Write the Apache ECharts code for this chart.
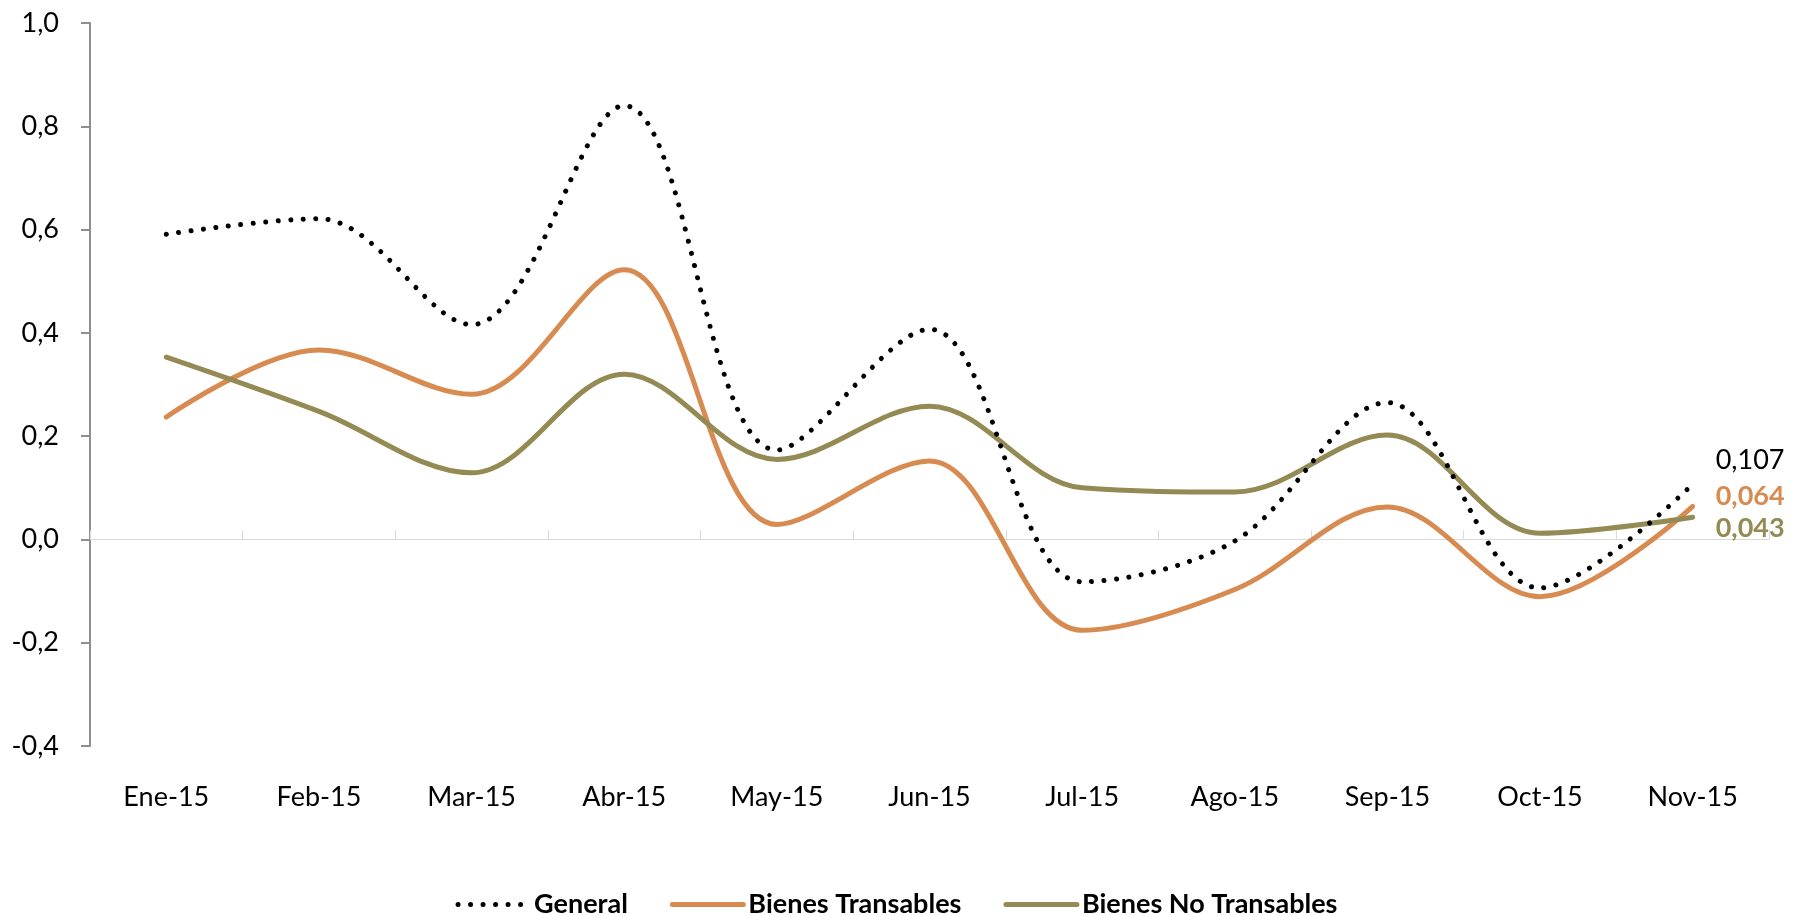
<!DOCTYPE html>
<html>
<head>
<meta charset="utf-8">
<script src="https://cdn.jsdelivr.net/npm/echarts@6/dist/echarts.min.js"></script>
<style>
html,body{margin:0;padding:0;background:#fff;}
#chart{width:1793px;height:916px;}
</style>
</head>
<body>
<div id="chart"></div>
<script>
const categories = ['Ene-15','Feb-15','Mar-15','Abr-15','May-15','Jun-15','Jul-15','Ago-15','Sep-15','Oct-15','Nov-15'];
const general = [0.591, 0.621, 0.416, 0.840, 0.173, 0.407, -0.082, -0.003, 0.265, -0.094, 0.107];
const transables = [0.237, 0.367, 0.281, 0.522, 0.029, 0.152, -0.176, -0.097, 0.063, -0.111, 0.064];
const noTransables = [0.353, 0.248, 0.129, 0.320, 0.155, 0.258, 0.100, 0.092, 0.202, 0.012, 0.043];
const seriesNames = ['General', 'Bienes Transables', 'Bienes No Transables'];
const endLabels = ['0,107', '0,064', '0,043'];
const yTicks = { min: -0.4, max: 1.0, interval: 0.2 };

const FONT = 'Lato';
const cOrange = '#D88B51';
const cOlive = '#948A54';

const chart = echarts.init(document.getElementById('chart'), null, { renderer: 'canvas' });
const smoothVal = 0.35;

chart.setOption({
  animation: false,
  backgroundColor: '#ffffff',
  textStyle: { fontFamily: FONT },
  grid: { left: 90, right: 24, top: 23, bottom: 170, containLabel: false },
  legend: {
    top: 886,
    left: 'center',
    itemWidth: 71,
    itemHeight: 8,
    itemGap: 42,
    itemStyle: { opacity: 0 },
    lineStyle: { width: 5, cap: 'round' },
    textStyle: { fontFamily: FONT, fontSize: 27, fontWeight: 'bold', color: '#000' },
    data: seriesNames
  },
  xAxis: [
    {
      type: 'category',
      data: categories,
      position: 'bottom',
      boundaryGap: true,
      axisLine: { show: false, onZero: false },
      axisTick: { show: false },
      axisLabel: { fontFamily: FONT, fontSize: 27, color: '#000', margin: 38 },
      splitLine: { show: false }
    },
    {
      type: 'category',
      data: categories,
      position: 'top',
      boundaryGap: true,
      axisLine: { show: true, onZero: true, lineStyle: { color: '#DADADA', width: 1 } },
      axisTick: { show: true, length: 9, lineStyle: { color: '#DADADA', width: 1 } },
      axisLabel: { show: false },
      splitLine: { show: false }
    }
  ],
  yAxis: {
    type: 'value',
    min: yTicks.min,
    max: yTicks.max,
    interval: yTicks.interval,
    axisLine: { show: true, lineStyle: { color: '#8F8F8F', width: 2 } },
    axisTick: { show: true, length: 9, lineStyle: { color: '#8F8F8F', width: 2 } },
    axisLabel: {
      fontFamily: FONT, fontSize: 27, color: '#000', margin: 31,
      formatter: v => v.toFixed(1).replace('.', ',')
    },
    splitLine: { show: false }
  },
  series: [
    {
      name: seriesNames[0],
      type: 'line',
      data: general,
      smooth: smoothVal,
      symbol: 'none',
      z: 3,
      color: '#000',
      lineStyle: { color: '#000', width: 5, type: [0.01, 12.5], cap: 'round' },
      endLabel: {
        show: true, formatter: () => endLabels[0], offset: [15, -24],
        fontFamily: FONT, fontSize: 27, color: '#000', fontWeight: 'normal'
      }
    },
    {
      name: seriesNames[1],
      type: 'line',
      data: transables,
      smooth: smoothVal,
      symbol: 'none',
      z: 2,
      color: cOrange,
      lineStyle: { color: cOrange, width: 5, cap: 'round' },
      endLabel: {
        show: true, formatter: () => endLabels[1], offset: [15, -10],
        fontFamily: FONT, fontSize: 27, color: cOrange, fontWeight: 'bold'
      }
    },
    {
      name: seriesNames[2],
      type: 'line',
      data: noTransables,
      smooth: smoothVal,
      symbol: 'none',
      z: 2,
      color: cOlive,
      lineStyle: { color: cOlive, width: 5, cap: 'round' },
      endLabel: {
        show: true, formatter: () => endLabels[2], offset: [15, 11],
        fontFamily: FONT, fontSize: 27, color: cOlive, fontWeight: 'bold'
      }
    }
  ]
});
</script>
</body>
</html>
